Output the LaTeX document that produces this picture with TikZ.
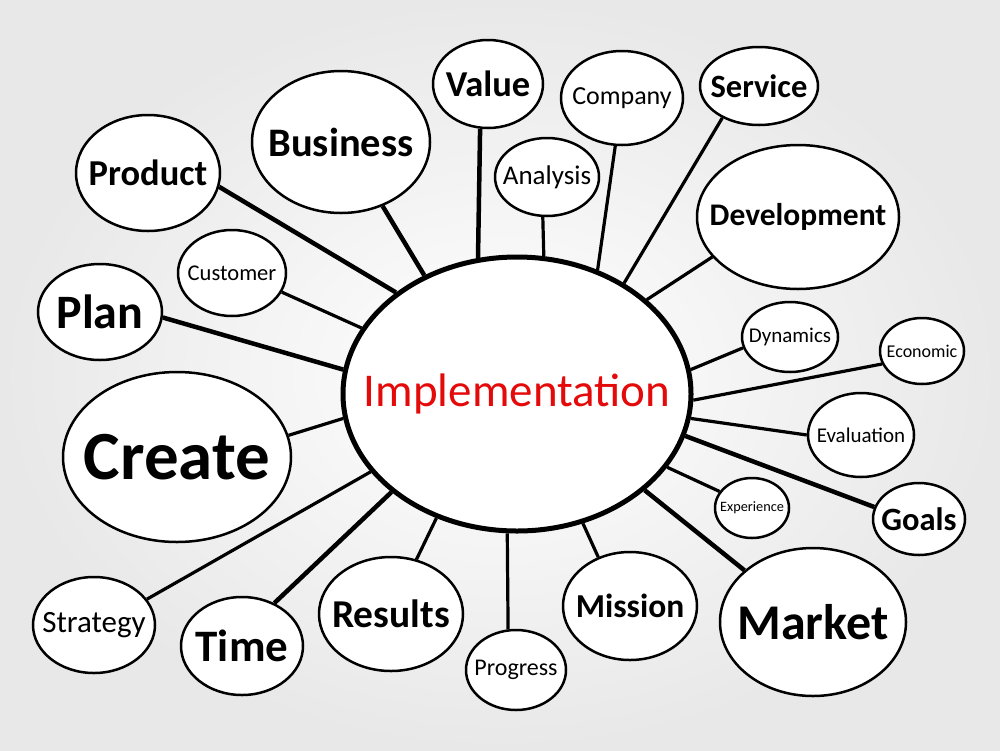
\documentclass[tikz,border=0pt]{standalone}
\usepackage{fontspec}
\setmainfont{Carlito}
\usetikzlibrary{shapes.geometric}
\definecolor{implred}{RGB}{228,10,10}
\tikzset{
  bubble/.style={ellipse, draw, line width=2.5pt, inner sep=0pt, fill=white},
  fsz/.style={font=\fontsize{#1}{#1}\selectfont},
  bfsz/.style={font=\fontsize{#1}{#1}\selectfont\bfseries},
  link/.style={line width=3.2pt},
  thicklink/.style={line width=4.5pt},
}
\begin{document}
\begin{tikzpicture}[x=1pt,y=-1pt]

% background
\shade [inner color=white, middle color=white, outer color=black!9] (0,0) rectangle (1000,750);
\useasboundingbox (0,0) rectangle (1000,750);

% centre
\node [bubble, line width=5pt, minimum width=348pt, minimum height=274pt, label={[fsz=47, text=implred]center:Implementation}] (impl) at (517,394) {};

% upper left
\node [bubble, minimum width=144pt, minimum height=116pt, label={[bfsz=36.5]center:Product}] (product) at (148,173) {};
\node [bubble, minimum width=178pt, minimum height=142pt, label={[bfsz=40.5]center:Business}] (business) at (341,142) {};
\node [bubble, minimum width=108pt, minimum height=86pt, label={[fsz=22.5]center:Customer}] (customer) at (232,273) {};
\node [bubble, minimum width=124pt, minimum height=96pt, label={[bfsz=48]center:Plan}] (plan) at (100,312) {};
\node [bubble, minimum width=228pt, minimum height=170pt, label={[bfsz=69]center:Create}] (create) at (177,457) {};

% top
\node [bubble, minimum width=110pt, minimum height=88pt, label={[bfsz=36.5]center:Value}] (value) at (488,84) {};
\node [bubble, minimum width=104pt, minimum height=78pt, label={[fsz=27]center:Analysis}] (analysis) at (547,177) {};
\node [bubble, minimum width=122pt, minimum height=94pt, label={[fsz=26]center:Company}] (company) at (622,98) {};
\node [bubble, minimum width=118pt, minimum height=78pt, label={[bfsz=32.5]center:Service}] (service) at (759,86) {};

% right
\node [bubble, minimum width=202pt, minimum height=144pt, label={[bfsz=31.5]center:Development}] (development) at (798,217) {};
\node [bubble, minimum width=96pt, minimum height=70pt, label={[fsz=21]center:Dynamics}] (dynamics) at (790,337) {};
\node [bubble, minimum width=84pt, minimum height=66pt, label={[fsz=18]center:Economic}] (economic) at (922,351) {};
\node [bubble, minimum width=106pt, minimum height=84pt, label={[fsz=21]center:Evaluation}] (evaluation) at (861,435) {};
\node [bubble, minimum width=92pt, minimum height=72pt, label={[bfsz=32.5]center:Goals}] (goals) at (919,519) {};
\node [bubble, minimum width=74pt, minimum height=60pt, label={[fsz=14.3]center:Experience}] (experience) at (752,508) {};

% bottom
\node [bubble, minimum width=186pt, minimum height=148pt, label={[bfsz=50]center:Market}] (market) at (813,622) {};
\node [bubble, minimum width=134pt, minimum height=108pt, label={[bfsz=33.5]center:Mission}] (mission) at (630,606) {};
\node [bubble, minimum width=100pt, minimum height=80pt, label={[fsz=24]center:Progress}] (progress) at (516,670) {};
\node [bubble, minimum width=144pt, minimum height=114pt, label={[bfsz=39.5]center:Results}] (results) at (391,614) {};
\node [bubble, minimum width=122pt, minimum height=98pt, label={[bfsz=45]center:Time}] (time) at (242,646) {};
\node [bubble, minimum width=122pt, minimum height=96pt, label={[fsz=31]center:Strategy}] (strategy) at (94,625) {};

% links
\draw [thicklink] (product.-11) -- (impl.140);
\draw [thicklink] (business.-57) -- (impl.128);
\draw [link] (customer.-21) -- (impl.157);
\draw [thicklink] (plan.-5) -- (impl.172);
\draw [link] (create.11) -- (impl.188);
\draw [thicklink] (value.-100) -- (impl.106);
\draw [link] (analysis.-96) -- (impl.79);
\draw [link] (company.-98) -- (impl.57.5);
\draw [link] (service.-139) -- (impl.46.5);
\draw [link] (development.-155) -- (impl.36);
\draw [link] (dynamics.-167) -- (impl.8.5);
\draw [link] (economic.-162) -- (impl.-2);
\draw [link] (evaluation.180) -- (impl.-8);
\draw [thicklink] (goals.165) -- (impl.-14.6);
\draw [link] (experience.153) -- (impl.-26);
\draw [thicklink] (market.143) -- (impl.-37);
\draw [link] (mission.123) -- (impl.-63);
\draw [link] (progress.101) -- (impl.-94);
\draw [link] (results.65.5) -- (impl.-123);
\draw [thicklink] (time.53) -- (impl.-142);
\draw [link] (strategy.26) -- (impl.-152);

\end{tikzpicture}
\end{document}
